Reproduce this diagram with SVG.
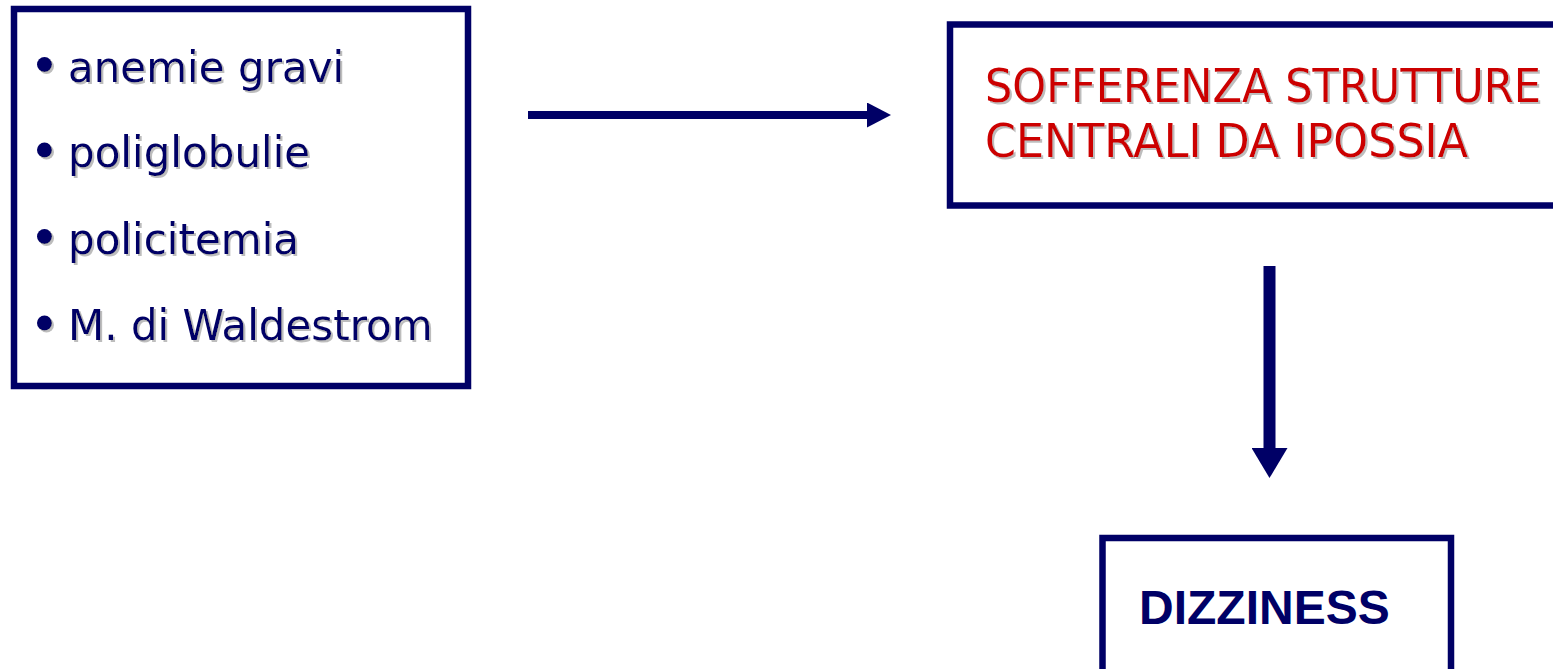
<svg xmlns="http://www.w3.org/2000/svg" width="1553" height="669" viewBox="0 0 1553 669">
  <style>
    .box { fill: #ffffff; stroke: #000066; stroke-width: 6.5; }
    .item { font-family: "DejaVu Sans", Verdana, sans-serif; font-size: 42px; fill: #000066; }
    .bullet { fill: #000066; }
    .cause { font-family: "DejaVu Sans", Tahoma, sans-serif; font-size: 47px; fill: #cc0000; }
    .effect { font-family: "Liberation Sans", Arial, sans-serif; font-size: 48px; font-weight: bold; fill: #000066; }
    .link { stroke: #000066; fill: none; }
  </style>
  <defs>
    <filter id="soft-shadow" x="-5%" y="-10%" width="110%" height="130%">
      <feOffset in="SourceAlpha" dx="2" dy="2" result="off"/>
      <feFlood flood-color="#bdbdbd"/>
      <feComposite in2="off" operator="in" result="shadow"/>
      <feMerge>
        <feMergeNode in="shadow"/>
        <feMergeNode in="SourceGraphic"/>
      </feMerge>
    </filter>
    <marker id="head-h" markerUnits="userSpaceOnUse" markerWidth="24" markerHeight="25" refX="0" refY="12.5" orient="auto">
      <path d="M0,0 L24,12.5 L0,25 Z" fill="#000066"/>
    </marker>
    <marker id="head-v" markerUnits="userSpaceOnUse" markerWidth="30" markerHeight="36" refX="0" refY="18" orient="auto">
      <path d="M0,0 L30,18 L0,36 Z" fill="#000066"/>
    </marker>
  </defs>

  <rect width="1553" height="669" fill="#ffffff"/>

  <!-- list of haematological conditions -->
  <g id="conditions">
    <rect class="box" x="14" y="9" width="454" height="377"/>
    <g filter="url(#soft-shadow)">
      <circle class="bullet" cx="44.5" cy="64.5" r="7.5"/>
      <text class="item" x="68" y="81.5">anemie gravi</text>
      <circle class="bullet" cx="44.5" cy="150" r="7.5"/>
      <text class="item" x="68" y="167">poliglobulie</text>
      <circle class="bullet" cx="44.5" cy="236.5" r="7.5"/>
      <text class="item" x="68" y="253.5">policitemia</text>
      <circle class="bullet" cx="44.5" cy="323" r="7.5"/>
      <text class="item" x="68" y="340">M. di Waldestrom</text>
    </g>
  </g>

  <!-- central hypoxic damage -->
  <g id="hypoxia">
    <rect class="box" x="950" y="24.5" width="700" height="181"/>
    <g filter="url(#soft-shadow)">
      <text class="cause" x="985" y="101.5" textLength="556" lengthAdjust="spacingAndGlyphs">SOFFERENZA STRUTTURE</text>
      <text class="cause" x="985" y="156.5" textLength="483" lengthAdjust="spacingAndGlyphs">CENTRALI DA IPOSSIA</text>
    </g>
  </g>

  <!-- resulting symptom -->
  <g id="dizziness">
    <rect class="box" x="1102.5" y="538" width="348.5" height="160"/>
    <text class="effect" x="1139" y="624">DIZZINESS</text>
  </g>

  <g id="connectors">
    <line class="link" x1="528" y1="115" x2="867" y2="115" stroke-width="8" marker-end="url(#head-h)"/>
    <line class="link" x1="1269.5" y1="266" x2="1269.5" y2="448" stroke-width="12" marker-end="url(#head-v)"/>
  </g>
</svg>
